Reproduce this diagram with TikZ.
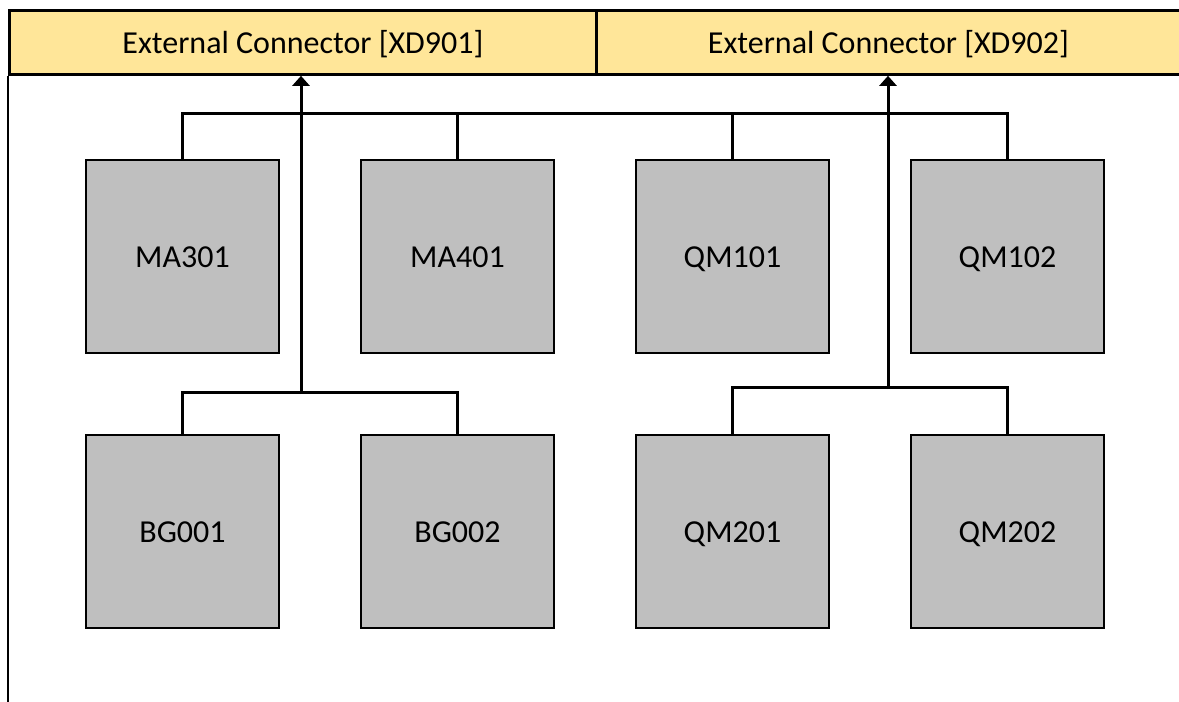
\documentclass[tikz,border=0pt]{standalone}
\usepackage{fontspec}
\setmainfont{Carlito}
\usetikzlibrary{arrows.meta}
\definecolor{hdr}{HTML}{FFE699}
\definecolor{boxgray}{HTML}{BFBFBF}
\begin{document}
\begin{tikzpicture}[x=1pt,y=-1pt,
  hdrbox/.style={draw=black,line width=2.8pt,fill=hdr,minimum height=64pt,inner sep=0pt,text height=22pt,text depth=0pt,font=\fontsize{32}{36}\selectfont},
  unit/.style={draw=black,line width=2.8pt,fill=boxgray,minimum width=193pt,minimum height=193pt,inner sep=0pt,text height=22pt,text depth=0pt,font=\fontsize{32}{36}\selectfont},
  wire/.style={line width=3pt,line join=miter},
  arr/.style={wire,-{Triangle[length=10pt,width=17pt]}}]
\useasboundingbox (0,0) rectangle (1179,702);
\begin{scope}
\clip (0,0) rectangle (1179,702);
\node[hdrbox,minimum width=587pt,anchor=north west] (h1) at (8,9) {External Connector [XD901]};
\node[hdrbox,minimum width=590pt,anchor=north west] (h2) at (595,9) {External Connector [XD902]\hspace*{+6pt}};
\end{scope}
\coordinate (lb) at (8,702);
\draw[line width=2.8pt] (h1.south west) -- (lb);
% boxes
\node[unit] (ma301) at (182.5,256.5) {MA301};
\node[unit] (ma401) at (457.5,256.5) {MA401};
\node[unit] (qm101) at (732.5,256.5) {QM101};
\node[unit] (qm102) at (1007.5,256.5) {QM102};
\node[unit] (bg001) at (182.5,531.5) {BG001};
\node[unit] (bg002) at (457.5,531.5) {BG002};
\node[unit] (qm201) at (732.5,531.5) {QM201};
\node[unit] (qm202) at (1007.5,531.5) {QM202};
% top bus
\draw[wire] (ma301.north) -- ++(0,-45) -| (qm102.north);
\draw[wire] (ma401.north) -- ++(0,-45);
\draw[wire] (qm101.north) -- ++(0,-45);
% lower buses
\coordinate (j1) at (301,394);
\coordinate (j2) at (888,389);
\draw[wire] (bg001.north) -- ++(0,-41) -| (bg002.north);
\draw[wire] (qm201.north) -- ++(0,-46) -| (qm202.north);
% arrows up to headers
\draw[arr] (j1) -- (j1 |- h1.south);
\draw[arr] (j2) -- (j2 |- h2.south);
\end{tikzpicture}
\end{document}
